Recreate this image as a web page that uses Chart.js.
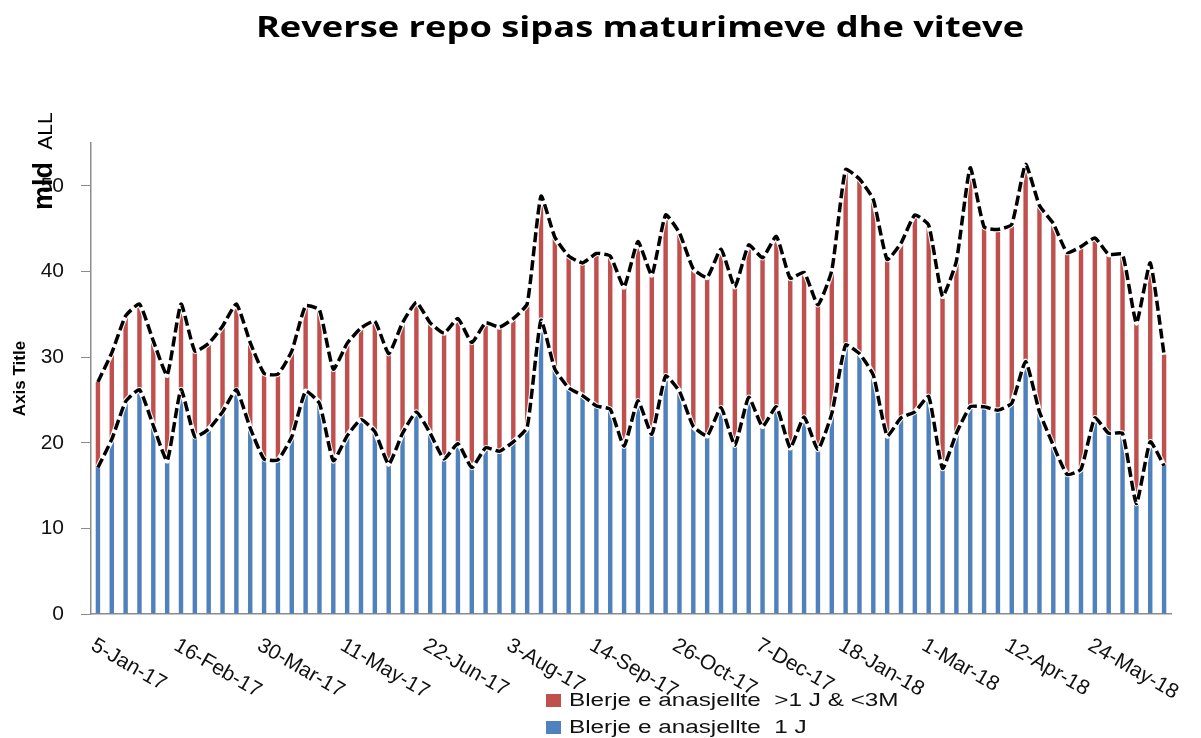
<!DOCTYPE html>
<html>
<head>
<meta charset="utf-8">
<script src="https://cdn.jsdelivr.net/npm/chart.js@4.4.0/dist/chart.umd.min.js"></script>
<style>
  body { margin: 0; background: #fff; }
  #wrap { width: 1201px; height: 738px; }
</style>
</head>
<body>
<div id="wrap"><canvas id="repoChart" width="1201" height="738"></canvas></div>
<script>
const chartTitle = 'Reverse repo sipas maturimeve dhe viteve';

const weeks = [
  '5-Jan-17','12-Jan-17','19-Jan-17','26-Jan-17','2-Feb-17','9-Feb-17','16-Feb-17','23-Feb-17',
  '2-Mar-17','9-Mar-17','16-Mar-17','23-Mar-17','30-Mar-17','6-Apr-17','13-Apr-17','20-Apr-17',
  '27-Apr-17','4-May-17','11-May-17','18-May-17','25-May-17','1-Jun-17','8-Jun-17','15-Jun-17',
  '22-Jun-17','29-Jun-17','6-Jul-17','13-Jul-17','20-Jul-17','27-Jul-17','3-Aug-17','10-Aug-17',
  '17-Aug-17','24-Aug-17','31-Aug-17','7-Sep-17','14-Sep-17','21-Sep-17','28-Sep-17','5-Oct-17',
  '12-Oct-17','19-Oct-17','26-Oct-17','2-Nov-17','9-Nov-17','16-Nov-17','23-Nov-17','30-Nov-17',
  '7-Dec-17','14-Dec-17','21-Dec-17','28-Dec-17','4-Jan-18','11-Jan-18','18-Jan-18','25-Jan-18',
  '1-Feb-18','8-Feb-18','15-Feb-18','22-Feb-18','1-Mar-18','8-Mar-18','15-Mar-18','22-Mar-18',
  '29-Mar-18','5-Apr-18','12-Apr-18','19-Apr-18','26-Apr-18','3-May-18','10-May-18','17-May-18',
  '24-May-18','31-May-18','7-Jun-18','14-Jun-18','21-Jun-18','28-Jun-18'
];

// only every 6th week gets a label on the axis
const tickLabels = [
  '5-Jan-17','16-Feb-17','30-Mar-17','11-May-17','22-Jun-17','3-Aug-17','14-Sep-17',
  '26-Oct-17','7-Dec-17','18-Jan-18','1-Mar-18','12-Apr-18','24-May-18'
];

// mld ALL
const blerje1J = [
  17.1,20.4,24.8,26.2,22.0,17.9,26.2,20.7,21.6,23.6,
  26.2,21.7,18.1,18.0,20.7,26.0,24.6,17.9,20.8,22.7,
  21.3,17.5,21.1,23.6,21.1,18.1,19.9,17.1,19.4,19.0,
  20.1,21.8,34.3,28.6,26.4,25.5,24.3,23.9,19.6,24.9,
  21.0,27.8,26.0,21.9,20.8,24.1,19.7,25.3,21.9,24.2,
  19.4,23.0,19.2,23.4,31.4,30.4,27.9,20.8,22.9,23.6,
  25.4,17.0,21.1,24.2,24.2,23.8,24.6,29.5,23.6,19.7,
  16.3,16.9,22.9,21.1,21.1,12.9,20.1,17.3
];

const blerje1Jto3M = [
  10.0,10.1,10.0,10.0,9.9,10.0,10.0,10.0,10.0,10.0,
  10.0,10.0,10.0,10.0,10.0,10.0,10.9,10.7,10.8,10.7,
  12.9,12.9,12.9,12.8,12.9,14.7,14.6,14.6,14.6,14.5,
  14.4,14.4,14.5,15.4,15.4,15.5,17.8,17.9,18.6,18.6,
  18.6,18.8,18.5,18.4,18.5,18.5,18.5,17.8,19.7,19.9,
  19.8,16.9,16.9,16.7,20.5,20.4,20.5,20.6,20.4,23.0,
  20.0,20.1,20.1,27.9,21.0,21.1,20.9,23.0,24.1,25.9,
  25.9,26.0,21.0,20.9,20.9,21.1,20.9,13.0
];

const seriesNames = ['Blerje e anasjellte  >1 J & <3M', 'Blerje e anasjellte  1 J'];
const blue = '#4f81bd';
const red = '#c0504d';

const totals = blerje1J.map((v, i) => +(v + blerje1Jto3M[i]).toFixed(1));

function dashedLine(data, stack, underlay) {
  return {
    type: 'line',
    data: data,
    stack: stack,
    order: underlay ? 1 : 0,
    borderColor: underlay ? '#ffffff' : '#000000',
    borderWidth: underlay ? 5.5 : 3.5,
    borderDash: underlay ? [] : [10, 4],
    pointRadius: 0,
    tension: 0.15,
    fill: false
  };
}

// text in the original is drawn wider than normal, so stretch it a bit
function wideText(ctx, txt, x, y, sx) {
  ctx.save();
  ctx.translate(x, y);
  ctx.scale(sx, 1);
  ctx.fillText(txt, 0, 0);
  ctx.restore();
}

const extras = {
  id: 'extras',
  afterDraw(chart) {
    const ctx = chart.ctx;
    const x = chart.scales.x;
    ctx.save();
    ctx.fillStyle = '#000';

    // chart title
    ctx.font = 'bold 29px "Open Sans"';
    ctx.textAlign = 'center';
    ctx.textBaseline = 'middle';
    wideText(ctx, chartTitle, 640, 29, 1.25);

    // unit label, rotated
    ctx.save();
    ctx.translate(45, 186);
    ctx.rotate(-Math.PI / 2);
    ctx.font = 'bold 27px "Liberation Sans"';
    ctx.fillText('mld', 0, 0);
    ctx.font = '21px "Liberation Sans"';
    ctx.fillText('ALL', 55, 1);
    ctx.restore();

    // rotated date labels
    ctx.font = '21px "Liberation Sans"';
    ctx.fillStyle = '#111';
    ctx.textAlign = 'left';
    ctx.textBaseline = 'top';
    tickLabels.forEach(lbl => {
      const px = x.getPixelForValue(weeks.indexOf(lbl));
      ctx.save();
      ctx.translate(px, x.bottom + 21);
      ctx.rotate(30 * Math.PI / 180);
      ctx.fillText(lbl, 0, 0);
      ctx.restore();
    });

    // legend, two rows
    const legendColors = [red, blue];
    ctx.font = '18px "Liberation Sans"';
    ctx.textBaseline = 'middle';
    seriesNames.forEach((name, i) => {
      const cy = 701 + i * 27;
      ctx.fillStyle = legendColors[i];
      ctx.fillRect(546, cy - 7, 15, 13);
      ctx.fillStyle = '#111';
      wideText(ctx, name, 569, cy, 1.35);
    });
    ctx.restore();
  }
};

new Chart(document.getElementById('repoChart'), {
  type: 'bar',
  data: {
    labels: weeks,
    datasets: [
      dashedLine(totals, 'l1', false),
      dashedLine(blerje1J, 'l2', false),
      dashedLine(totals, 'l3', true),
      dashedLine(blerje1J, 'l4', true),
      {
        label: seriesNames[1],
        data: blerje1J,
        backgroundColor: blue,
        stack: 'bars',
        order: 2,
        categoryPercentage: 1,
        barPercentage: 0.32
      },
      {
        label: seriesNames[0],
        data: blerje1Jto3M,
        backgroundColor: red,
        stack: 'bars',
        order: 2,
        categoryPercentage: 1,
        barPercentage: 0.32
      }
    ]
  },
  options: {
    responsive: false,
    animation: false,
    layout: { padding: { top: 143, right: 30, bottom: 124, left: 0 } },
    plugins: {
      legend: { display: false },
      tooltip: { enabled: false }
    },
    scales: {
      x: {
        stacked: true,
        grid: { display: false },
        ticks: { display: false },
        border: { color: '#8c8c8c', width: 1.5 },
        afterFit(s) { s.height = 0; }
      },
      y: {
        stacked: true,
        min: 0,
        max: 55,
        afterBuildTicks(s) { s.ticks = s.ticks.filter(t => t.value % 10 === 0); },
        ticks: {
          stepSize: 10,
          padding: 17,
          color: '#111',
          font: { size: 21, family: 'Liberation Sans' }
        },
        grid: { drawOnChartArea: false, drawTicks: true, tickLength: 10, color: '#8c8c8c' },
        border: { color: '#8c8c8c', width: 1.5 },
        title: {
          display: true,
          text: 'Axis Title',
          color: '#000',
          padding: { top: 10, bottom: 0 },
          font: { size: 17, weight: 'bold', family: 'Liberation Sans Narrow, Liberation Sans' }
        },
        afterFit(s) { s.width = 91; }
      }
    }
  },
  plugins: [extras]
});
</script>
</body>
</html>
